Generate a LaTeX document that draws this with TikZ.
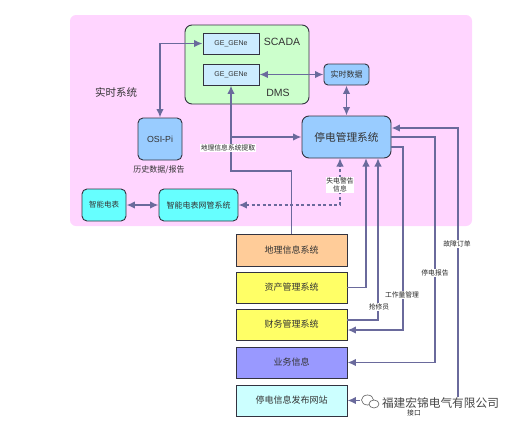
\documentclass[tikz,border=0pt]{standalone}
\usepackage{fontspec}
\setmainfont{Liberation Sans}
\newfontfamily\cjk{Noto Sans CJK SC}
\usetikzlibrary{arrows.meta}
\definecolor{linkc}{HTML}{6A6A9C}
\definecolor{edgec}{HTML}{333340}
\definecolor{pinkarea}{RGB}{255,213,255}
\definecolor{greenarea}{RGB}{204,255,204}
\definecolor{gebox}{RGB}{204,236,255}
\definecolor{bluebox}{RGB}{153,204,255}
\definecolor{cyanbox}{RGB}{102,255,255}
\definecolor{orangebox}{RGB}{255,204,153}
\definecolor{yellowbox}{RGB}{255,255,102}
\definecolor{violetbox}{RGB}{153,153,255}
\definecolor{palebox}{RGB}{204,255,255}
\tikzset{
  box/.style={draw=edgec, line width=0.9pt, inner sep=0pt, align=center, text=black!80, font=\cjk\fontsize{9}{11}\selectfont},
  roundbox/.style={box, rounded corners=5pt},
  link/.style={draw=linkc, line width=1.7pt, >={Latex[length=8.5pt,width=7.5pt]}},
  tag/.style={fill=white, inner sep=0.6pt, align=center, text=black!85, font=\cjk\fontsize{6.8}{8.5}\selectfont},
  plain/.style={inner sep=0pt, text=black!80}
}
\begin{document}
\begin{tikzpicture}[x=1pt,y=-1pt]
\useasboundingbox (0,0) rectangle (517,426);

% Areas
\fill[pinkarea, rounded corners=6pt] (70,15) rectangle (472,226);
\draw[draw=edgec, line width=0.9pt, fill=greenarea, rounded corners=7pt] (185,25) rectangle (309,104);

% Upper boxes
\node[box, fill=gebox, minimum width=56pt, minimum height=21pt, font=\fontsize{7}{8}\selectfont] (scada) at (231,43.5) {GE\_GENe};
\node[box, fill=gebox, minimum width=56pt, minimum height=21pt, font=\fontsize{7}{8}\selectfont] (dms) at (231,74.5) {GE\_GENe};
\node[plain, font=\fontsize{10.5}{12}\selectfont] (scadatxt) at (282,42) {SCADA};
\node[plain, font=\fontsize{10.5}{12}\selectfont] (dmstxt) at (278,93) {DMS};
\node[plain, font=\cjk\fontsize{10.5}{12}\selectfont] (rtsys) at (116,92) {实时系统};
\node[roundbox, fill=bluebox, minimum width=44pt, minimum height=42pt, font=\fontsize{8.8}{10}\selectfont] (osipi) at (160,139) {OSI-Pi};
\node[plain, font=\cjk\fontsize{8}{10}\selectfont] (hist) at (159,170) {历史数据/报告};
\node[roundbox, rounded corners=4pt, fill=bluebox, minimum width=45pt, minimum height=21pt, font=\cjk\fontsize{8}{10}\selectfont] (rtdata) at (346.5,74.5) {实时数据};
\node[roundbox, rounded corners=7pt, fill=bluebox, minimum width=89pt, minimum height=42pt, font=\cjk\fontsize{10.7}{12}\selectfont] (oms) at (346.5,137) {停电管理系统};
\node[roundbox, fill=cyanbox, minimum width=44pt, minimum height=32pt, font=\cjk\fontsize{7.5}{9}\selectfont] (meter) at (104,205) {智能电表};
\node[roundbox, fill=cyanbox, minimum width=79pt, minimum height=32pt, font=\cjk\fontsize{8}{10}\selectfont] (ami) at (198.5,205) {智能电表网管系统};

% Lower boxes
\node[box, fill=orangebox, minimum width=111pt, minimum height=32pt] (gis) at (291.5,250) {地理信息系统};
\node[box, fill=yellowbox, minimum width=111pt, minimum height=31pt] (asset) at (291.5,287.5) {资产管理系统};
\node[box, fill=yellowbox, minimum width=111pt, minimum height=31pt] (fin) at (291.5,324.5) {财务管理系统};
\node[box, fill=violetbox, minimum width=111pt, minimum height=31pt] (biz) at (291.5,362.5) {业务信息};
\node[box, fill=palebox, minimum width=111pt, minimum height=31pt] (web) at (291.5,400.5) {停电信息发布网站};

% Connectors
\coordinate (a1) at (160,43.5);
\draw[link, <->] (scada.west) -- (a1) -- (osipi.north -| a1);
\draw[link, <->] (dms.east) -- (rtdata.west);
\draw[link, <->] (rtdata.south) -- (oms.north);
\draw[link, <->] (meter.east) -- (ami.west);

% GIS
\coordinate (g1) at (231,171);
\coordinate (g2) at (291.5,171);
\coordinate (g3) at (231,137);
\draw[link, ->] (gis.north) -- (g2) -- (g1) -- (dms.south);
\draw[link, ->] (g3) -- (oms.west);

% Dashed alarm
\coordinate (d1) at (340,205);
\coordinate (d2) at (340,158);
\draw[link, <->, dash pattern=on 3pt off 2.5pt] (ami.east) -- (d1) -- (d2);

% Up to the outage system
\coordinate (u1) at (366,287.5);
\coordinate (u2) at (366,158);
\draw[link, ->] (asset.east) -- (u1) -- (u2);
\coordinate (v1) at (378,320);
\coordinate (v2) at (378,158);
\draw[link, ->] (fin.east |- v1) -- (v1) -- (v2);

% Down from the outage system
\coordinate (w1) at (403,147);
\coordinate (w2) at (403,330);
\draw[link, ->] (oms.east |- w1) -- (w1) -- (w2) -- (fin.east |- w2);
\coordinate (s1) at (435,137);
\coordinate (s2) at (435,362.5);
\draw[link, ->] (oms.east) -- (s1) -- (s2) -- (biz.east);
\coordinate (t1) at (458,128);
\coordinate (t2) at (458,400.5);
\draw[link, <->] (oms.east |- t1) -- (t1) -- (t2) -- (web.east);

% Labels
\node[tag] (gistag) at (228,148) {地理信息系统提取};
\node[tag] (alarmtag) at (340,185) {失电警告\\信息};
\node[tag] (crewtag) at (379,307) {抢修员};
\node[tag] (worktag) at (402,295) {工作量管理};
\node[tag] (reporttag) at (435,273) {停电报告};
\node[tag] (ordertag) at (457,244) {故障订单};
\node[tag] (porttag) at (414,413) {接口};

% Watermark
\fill[white] (360,394) rectangle (381,410);
\draw[black!65, line width=0.6pt, fill=white] (367.5,400) ellipse (6pt and 5pt);
\draw[black!65, line width=0.6pt, fill=white] (374,404) ellipse (5pt and 4pt);
\node[fill=white, inner sep=1pt, text=black!72, font=\cjk\fontsize{11.7}{13}\selectfont] (mark) at (440.5,403) {福建宏锦电气有限公司};
\end{tikzpicture}
\end{document}
